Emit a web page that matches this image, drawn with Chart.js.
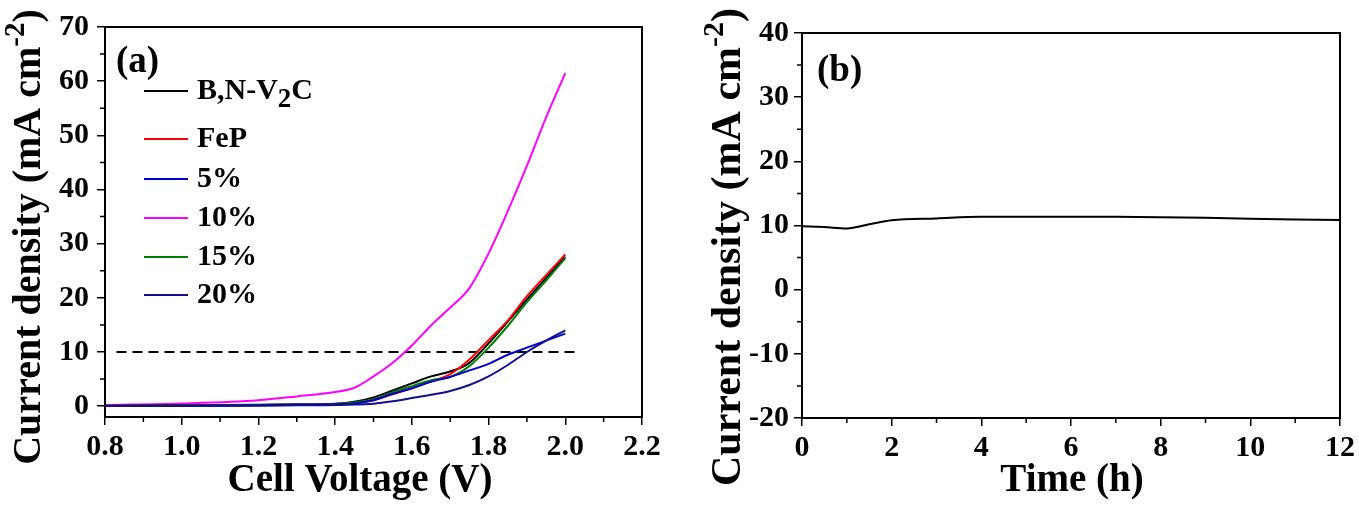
<!DOCTYPE html>
<html>
<head>
<meta charset="utf-8">
<script src="https://cdn.jsdelivr.net/npm/chart.js@4.4.0/dist/chart.umd.min.js"></script>
<style>
  body { margin: 0; background: #fff; }
  #wrap { position: relative; width: 1359px; height: 505px; }
  canvas { position: absolute; top: 0; }
</style>
</head>
<body>
<div id="wrap">
  <canvas id="chart-a" width="680" height="505" style="left:0px"></canvas>
  <canvas id="chart-b" width="679" height="505" style="left:680px"></canvas>
</div>
<script>
// ---- panel (a): polarization curves ----
var voltage = [0.8, 1.0, 1.2, 1.3, 1.4, 1.45, 1.5, 1.55, 1.6, 1.65, 1.7, 1.75, 1.8, 1.85, 1.9, 1.95, 2.0];
var bnV2C   = [0.1, 0.15, 0.25, 0.35, 0.45, 0.8, 1.6, 2.9, 4.2, 5.5, 6.4, 8.0, 11.6, 15.6, 19.7, 23.7, 27.6];
var feP     = [0.05, 0.1, 0.2, 0.3, 0.4, 0.6, 1.1, 2.2, 3.3, 4.6, 5.9, 8.6, 12.2, 15.8, 20.3, 24.2, 28.0];
var pct5    = [0.05, 0.1, 0.15, 0.25, 0.35, 0.5, 1.1, 2.3, 3.3, 4.5, 5.4, 6.6, 7.8, 9.5, 10.8, 12.1, 13.4];
var pct10   = [0.2, 0.5, 1.1, 1.8, 2.6, 3.4, 5.5, 8.0, 11.2, 14.9, 18.2, 21.8, 28.2, 36.0, 44.4, 53.3, 61.5];
var pct15   = [0.05, 0.1, 0.2, 0.3, 0.4, 0.7, 1.3, 2.6, 3.7, 4.8, 5.4, 7.4, 10.8, 14.8, 19.2, 23.2, 27.3];
var pct20   = [0.05, 0.05, 0.1, 0.15, 0.2, 0.3, 0.45, 0.9, 1.5, 2.1, 2.8, 3.9, 5.5, 7.6, 10.0, 12.1, 14.0];
var refLineX = [0.83, 2.03];
var refLineY = 10;
var voltTicks = [0.8, 1.0, 1.2, 1.4, 1.6, 1.8, 2.0, 2.2];
var densTicksA = [0, 10, 20, 30, 40, 50, 60, 70];

// ---- panel (b): stability test ----
var timeH   = [0, 0.5, 1, 1.5, 2, 3, 4, 5, 6, 7, 8, 9, 10, 11, 12];
var stabJ   = [9.9, 9.75, 9.55, 10.2, 10.8, 11.1, 11.35, 11.35, 11.35, 11.35, 11.3, 11.2, 11.05, 10.95, 10.85];
var timeTicks = [0, 2, 4, 6, 8, 10, 12];
var densTicksB = [-20, -10, 0, 10, 20, 30, 40];

var FONT = '"Liberation Serif", "Times New Roman", serif';

function toPoints(xs, ys) {
  return xs.map(function (x, i) { return { x: x, y: ys[i] }; });
}

function curve(label, values, color) {
  return {
    label: label,
    data: toPoints(voltage, values),
    borderColor: color,
    borderWidth: 2,
    pointRadius: 0,
    fill: false,
    cubicInterpolationMode: 'monotone'
  };
}

// draws the short in-between ticks outward
function minorTicks(ctx, scale, majors, len) {
  ctx.beginPath();
  for (var i = 0; i < majors.length - 1; i++) {
    var p = scale.getPixelForValue((majors[i] + majors[i + 1]) / 2);
    if (scale.axis === 'x') {
      ctx.moveTo(p, scale.top); ctx.lineTo(p, scale.top + len);
    } else {
      ctx.moveTo(scale.right, p); ctx.lineTo(scale.right - len, p);
    }
  }
  ctx.stroke();
}

function drawYTitle(ctx, x, cy, size) {
  var main = 'Current density (mA cm', sup = '-2', tail = ')';
  var big = 'bold ' + size + 'px ' + FONT;
  var small = 'bold ' + Math.round(size * 0.72) + 'px ' + FONT;
  ctx.save();
  ctx.translate(x, cy);
  ctx.rotate(-Math.PI / 2);
  ctx.fillStyle = '#000';
  ctx.textAlign = 'left';
  ctx.textBaseline = 'alphabetic';
  ctx.font = big;
  var w1 = ctx.measureText(main).width, w3 = ctx.measureText(tail).width;
  ctx.font = small;
  var w2 = ctx.measureText(sup).width;
  var x0 = -(w1 + w2 + w3) / 2;
  ctx.font = big; ctx.fillText(main, x0, 0);
  ctx.font = small; ctx.fillText(sup, x0 + w1, -size * 0.4);
  ctx.font = big; ctx.fillText(tail, x0 + w1 + w2, 0);
  ctx.restore();
}

function framePlugin(cfg) {
  return {
    id: 'frame',
    afterDraw: function (chart) {
      var ctx = chart.ctx, a = chart.chartArea;
      ctx.save();
      ctx.strokeStyle = '#000';
      ctx.lineWidth = 2;
      ctx.strokeRect(a.left, a.top, a.right - a.left, a.bottom - a.top);
      ctx.lineWidth = 1.5;
      minorTicks(ctx, chart.scales.x, cfg.xMajors, 5);
      minorTicks(ctx, chart.scales.y, cfg.yMajors, 5);

      drawYTitle(ctx, cfg.yTitleX, cfg.yTitleY, cfg.yTitleSize);

      ctx.fillStyle = '#000';
      ctx.textAlign = 'center';
      ctx.textBaseline = 'alphabetic';
      ctx.font = 'bold 39px ' + FONT;
      ctx.fillText(cfg.xTitle, cfg.xTitleX, 491);

      ctx.textAlign = 'left';
      ctx.font = 'bold 37px ' + FONT;
      ctx.fillText(cfg.tag, cfg.tagX, cfg.tagY);

      if (cfg.legend) cfg.legend(ctx);
      ctx.restore();
    }
  };
}

function legendA(ctx) {
  var rows = [
    { parts: [['B,N-V', 0], ['2', 1], ['C', 0]], color: '#000000', y: 91 },
    { parts: [['FeP', 0]], color: '#ff0000', y: 139 },
    { parts: [['5%', 0]], color: '#0000cc', y: 179 },
    { parts: [['10%', 0]], color: '#ff00ff', y: 218 },
    { parts: [['15%', 0]], color: '#008000', y: 257 },
    { parts: [['20%', 0]], color: '#10108c', y: 295 }
  ];
  ctx.textBaseline = 'middle';
  rows.forEach(function (r) {
    ctx.strokeStyle = r.color;
    ctx.lineWidth = 2;
    ctx.beginPath();
    ctx.moveTo(144, r.y); ctx.lineTo(188, r.y);
    ctx.stroke();
    var x = 197;
    r.parts.forEach(function (p) {
      ctx.font = 'bold ' + (p[1] ? 27 : 30) + 'px ' + FONT;
      ctx.fillText(p[0], x, r.y + (p[1] ? 9 : 0));
      x += ctx.measureText(p[0]).width;
    });
  });
}

function axisOpts(ticksArr, min, max, fmt, fitFn, pad) {
  return {
    type: 'linear',
    min: min,
    max: max,
    afterBuildTicks: function (s) { s.ticks = ticksArr.map(function (v) { return { value: v }; }); },
    afterFit: fitFn,
    border: { display: false },
    grid: { drawOnChartArea: false, drawTicks: true, tickLength: 8, color: '#000', lineWidth: 1.5 },
    ticks: {
      autoSkip: false,
      color: '#000',
      padding: pad,
      maxRotation: 0,
      font: { family: FONT, size: 30, weight: 'bold' },
      callback: fmt
    }
  };
}

new Chart(document.getElementById('chart-a').getContext('2d'), {
  type: 'line',
  data: {
    datasets: [
      curve('20%', pct20, '#10108c'),
      curve('5%', pct5, '#0000cc'),
      curve('15%', pct15, '#008000'),
      curve('FeP', feP, '#ff0000'),
      curve('B,N-V2C', bnV2C, '#000000'),
      curve('10%', pct10, '#ff00ff'),
      {
        label: 'ref',
        data: refLineX.map(function (x) { return { x: x, y: refLineY }; }),
        borderColor: '#000',
        borderWidth: 2,
        borderDash: [10, 6],
        pointRadius: 0,
        tension: 0
      }
    ]
  },
  options: {
    responsive: false,
    animation: false,
    layout: { padding: { left: 0, top: 27, right: 38, bottom: 0 } },
    plugins: { legend: { display: false }, tooltip: { enabled: false } },
    scales: {
      x: axisOpts(voltTicks, 0.8, 2.2, function (v) { return Number(v).toFixed(1); },
        function (s) { s.height = 88; }, 4),
      y: axisOpts(densTicksA, -2, 70, function (v) { return String(v); },
        function (s) { s.width = 105; }, 8)
    }
  },
  plugins: [framePlugin({
    xMajors: voltTicks, yMajors: densTicksA,
    yTitleX: 40, yTitleY: 237, yTitleSize: 40,
    xTitle: 'Cell Voltage (V)', xTitleX: 360,
    tag: '(a)', tagX: 116, tagY: 72,
    legend: legendA
  })]
});

new Chart(document.getElementById('chart-b').getContext('2d'), {
  type: 'line',
  data: {
    datasets: [{
      label: 'stability',
      data: toPoints(timeH, stabJ),
      borderColor: '#000',
      borderWidth: 2,
      pointRadius: 0,
      fill: false,
      cubicInterpolationMode: 'monotone'
    }]
  },
  options: {
    responsive: false,
    animation: false,
    layout: { padding: { left: 0, top: 33, right: 19, bottom: 0 } },
    plugins: { legend: { display: false }, tooltip: { enabled: false } },
    scales: {
      x: axisOpts(timeTicks, 0, 12, function (v) { return String(v); },
        function (s) { s.height = 87; }, 4),
      y: axisOpts(densTicksB, -20, 40, function (v) { return String(v); },
        function (s) { s.width = 122; }, 5)
    }
  },
  plugins: [framePlugin({
    xMajors: timeTicks, yMajors: densTicksB,
    yTitleX: 60, yTitleY: 247, yTitleSize: 42,
    xTitle: 'Time (h)', xTitleX: 392,
    tag: '(b)', tagX: 137, tagY: 81
  })]
});
</script>
</body>
</html>
